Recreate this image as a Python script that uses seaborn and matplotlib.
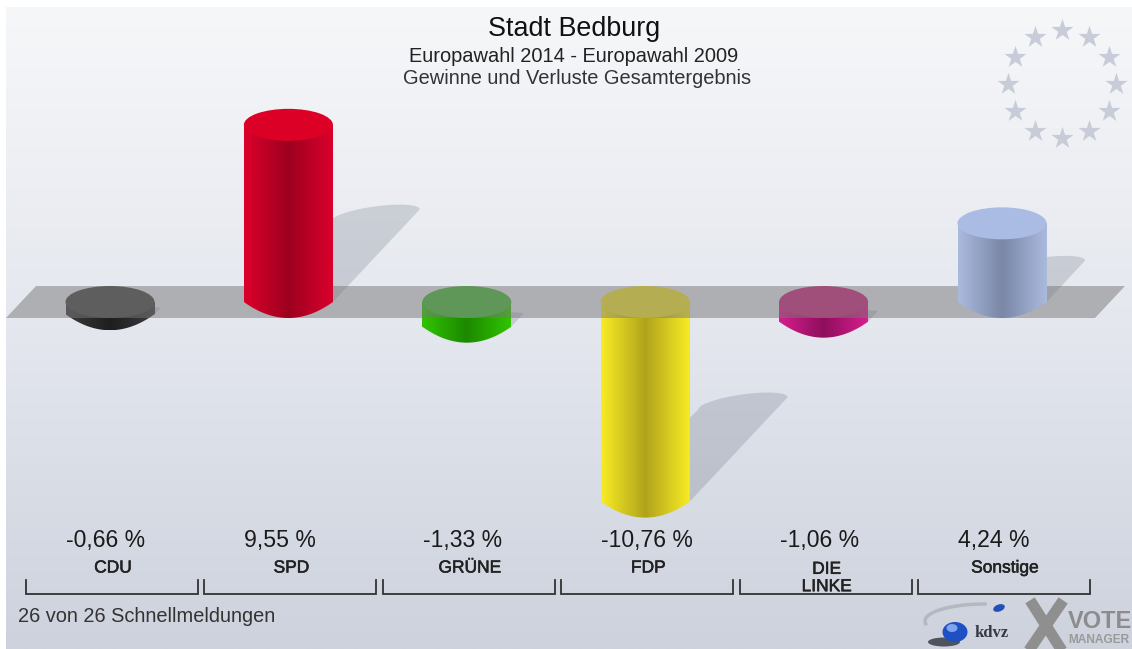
import numpy as np
import pandas as pd
import seaborn as sns
import matplotlib
matplotlib.use('Agg')
import matplotlib.pyplot as plt
import matplotlib.patheffects as pe
from matplotlib.colors import LinearSegmentedColormap
from matplotlib.patches import Polygon, Ellipse

# values
parties = ['CDU', 'SPD', 'GRÜNE', 'FDP', 'DIE\nLINKE', 'Sonstige']
changes = [-0.66, 9.55, -1.33, -10.76, -1.06, 4.24]
labels = ['-0,66 %', '9,55 %', '-1,33 %', '-10,76 %', '-1,06 %', '4,24 %']
edge_cols = ['#3c3c3c', '#dc002c', '#30c400', '#f8ec24', '#d61e8e', '#aabade']
mid_cols = ['#1e1e1e', '#9c001e', '#1d8800', '#b0a31c', '#8e0e5c', '#7a87a6']
cap_cols = ['#444444', '#dc0026', '#46b83a', '#f2e42a', '#c8247e', '#aabbe4']

title = 'Stadt Bedburg'
sub1 = 'Europawahl 2014 - Europawahl 2009'
sub2 = 'Gewinne und Verluste Gesamtergebnis'
foot = '26 von 26 Schnellmeldungen'

W, H = 1132, 649
X0, DX = 110, 178.4     # pixel of first bar, pixels per category
Y0, DY = 302, 18.55     # pixel of zero line, pixels per percent
CAP_H = 16 / DY         # half height of the ellipses, data units
BAR_W = 89 / DX

plt.rcParams['font.family'] = ['Liberation Sans', 'DejaVu Sans']
fig = plt.figure(figsize=(W / 100, H / 100), dpi=100)

# background
bg = fig.add_axes([0, 0, 1, 1], zorder=0)
bg_cmap = LinearSegmentedColormap.from_list('bg', ['#f6f7f9', '#e4e7ee', '#cdd2dd'])
bg.imshow(np.linspace(0, 1, 256).reshape(-1, 1), cmap=bg_cmap, aspect='auto',
          extent=[6, W, H, 7])
bg.set_xlim(0, W)
bg.set_ylim(H, 0)
bg.axis('off')

# stars
ang = np.deg2rad(np.arange(0, 360, 30))
bg.scatter(1062 + 54 * np.sin(ang), 84 - 54 * np.cos(ang), marker='*', s=280,
           color='#c7ccd8', linewidths=0)

# bars
ax = fig.add_axes([0, 0, 1, 1], zorder=1)
ax.patch.set_alpha(0)
df = pd.DataFrame({'party': parties, 'change': changes})
sns.barplot(data=df, x='party', y='change', hue='party', palette=edge_cols,
            width=BAR_W, legend=False, ax=ax)
xlim = (-X0 / DX, (W - X0) / DX)
ylim = ((Y0 - H) / DY, Y0 / DY)
u = np.linspace(1, -1, 60)

for bar, val, c1, c2, c3 in zip(ax.patches, changes, edge_cols, mid_cols, cap_cols):
    x = bar.get_x() + bar.get_width() / 2
    hw = bar.get_width() / 2
    z = 4 if val > 0 else 2
    bar.set_zorder(z)

    # shadow, sheared up and to the right from the foot of the column
    foot_y = 0 if val > 0 else val
    h = abs(val)
    k = min(1, h / 4)
    sx, sy = x + 0.49 * h * DY / DX, foot_y + 0.52 * h - 0.3 * k
    a = np.linspace(0, np.pi, 40)
    arc_x = sx + hw * np.cos(a)
    arc_y = sy + k * (6 / DY) * np.cos(a) + k * (9 / DY) * np.sin(a)
    pts = [(x + hw, foot_y)] + list(zip(arc_x, arc_y)) + [(x - hw, foot_y)]
    ax.add_patch(Polygon(pts, closed=True, fc='#3c465a', ec='none', alpha=0.18, zorder=1))

    # column side with the cylinder shading, lens shaped foot
    low = min(val, 0)
    top = max(val, 0)
    side = [(x - hw, top), (x + hw, top)]
    side += list(zip(x + hw * u, low - CAP_H * (1 - u ** 2)))
    clip = Polygon(side, closed=True, transform=ax.transData, fc='none', ec='none')
    ax.add_patch(clip)
    cmap = LinearSegmentedColormap.from_list('c', [c1, c2, c1])
    im = ax.imshow(np.linspace(0, 1, 128).reshape(1, -1), cmap=cmap, aspect='auto',
                   extent=[x - hw, x + hw, low - CAP_H, top], zorder=z + 0.1)
    im.set_clip_path(clip)

    # cap
    ax.add_patch(Ellipse((x, top), 2 * hw, 2 * CAP_H, fc=c3, ec='none', zorder=z + 0.2))

# plate around the zero line
ax.add_patch(Polygon([(-104 / DX, -CAP_H), (-74 / DX, CAP_H),
                      (1015 / DX, CAP_H), (985 / DX, -CAP_H)],
                     closed=True, fc='#797878', ec='none', alpha=0.5, zorder=3))
ax.set_xlim(xlim)
ax.set_ylim(ylim)
ax.axis('off')

# texts and brackets on a pixel layer
tx = fig.add_axes([0, 0, 1, 1], zorder=2)
tx.patch.set_alpha(0)
tx.set_xlim(0, W)
tx.set_ylim(H, 0)
tx.axis('off')

tx.text(574, 28.5, title, ha='center', va='center', fontsize=19.4, color='#111111')
tx.text(574, 56, sub1, ha='center', va='center', fontsize=14.4, color='#222222')
tx.text(577, 79, sub2, ha='center', va='center', fontsize=14.4, color='#333333')
tx.text(18, 617, foot, ha='left', va='center', fontsize=14.45, color='#333333')

bold = [pe.withStroke(linewidth=0.4, foreground='#222222')]
for i, (name, lab) in enumerate(zip(parties, labels)):
    cx = X0 + DX * i
    tx.text(cx - 44, 540, lab, ha='left', va='center', fontsize=16.6, color='#1a1a1a')
    tx.text(cx + 3, 578 if '\n' in name else 568, name, ha='center', va='center', fontsize=12.5,
            linespacing=1.2, color='#222222', path_effects=bold)
    tx.plot([cx - 84, cx - 84, cx + 88, cx + 88], [580, 594, 594, 580],
            color='#333333', lw=1.3, solid_joinstyle='miter')

# logo
a = np.linspace(np.pi * 0.95, np.pi * 1.5, 30)
tx.plot(985 + 60 * np.cos(a), 621 + 17 * np.sin(a), color='#b4b8bf', lw=2.5)
tx.add_patch(Ellipse((944, 642), 32, 9, fc='#30343c', ec='none', alpha=0.8))
tx.add_patch(Ellipse((955, 632), 25, 20, fc='#1f4fc4', ec='none'))
tx.add_patch(Ellipse((952, 628), 11, 8, fc='#7fa4ee', ec='none'))
tx.add_patch(Ellipse((999, 608), 12, 7, angle=-20, fc='#234fb8', ec='none'))
tx.text(975, 633, 'kdvz', fontsize=12, fontweight='bold', family='Liberation Serif',
        color='#333a44', va='center', ha='left')
tx.plot([1033, 1059], [605, 646], color='#8f8f8f', lw=8)
tx.plot([1060, 1032], [605, 646], color='#8f8f8f', lw=8)
tx.text(1068, 622, 'VOTE', fontsize=17, fontweight='bold', color='#8c8c8c', va='center', ha='left')
tx.text(1068, 640, 'MANAGER', fontsize=8.6, fontweight='bold', color='#9a9a9a', va='center', ha='left')

fig.savefig('out.png', dpi=100)
